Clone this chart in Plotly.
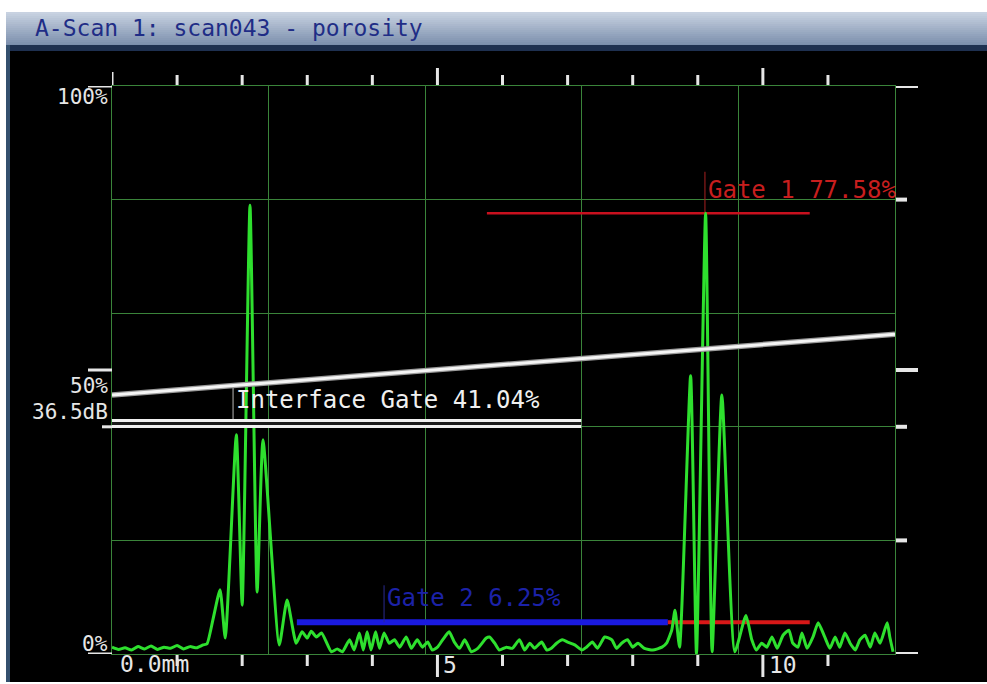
import plotly.graph_objects as go

# ---------------- data ----------------
signal_mm = [
    0.00, 0.10, 0.20, 0.30, 0.40, 0.50, 0.60, 0.70, 0.80, 0.90, 1.00, 1.10, 1.20, 1.30, 1.40, 1.46,
    1.55, 1.66, 1.74, 1.91, 2.00, 2.12, 2.23, 2.32, 2.57, 2.69,
    2.83, 2.92, 3.00, 3.06, 3.14, 3.22, 3.37, 3.46, 3.54, 3.65, 3.72, 3.80, 3.86, 3.92, 3.98,
    4.05, 4.11, 4.18, 4.26, 4.34, 4.42, 4.52, 4.60, 4.69, 4.77, 4.85, 4.92, 5.00, 5.08, 5.18,
    5.26, 5.34, 5.42, 5.52, 5.62, 5.75, 5.80, 5.88, 5.95, 6.06, 6.15, 6.26, 6.34, 6.42, 6.49,
    6.60, 6.68, 6.75, 6.83, 6.92, 7.00, 7.11, 7.22, 7.29, 7.38, 7.46, 7.57, 7.68, 7.75, 7.83,
    7.92, 8.00, 8.08, 8.18, 8.31, 8.45, 8.52,
    8.60, 8.65, 8.72, 8.89, 8.98, 9.12, 9.22, 9.37, 9.57, 9.74, 9.83, 9.90,
    9.98, 10.06, 10.14, 10.22, 10.31, 10.40, 10.46, 10.54, 10.60, 10.68, 10.77, 10.85, 10.95,
    11.03, 11.11, 11.18, 11.26, 11.34, 11.42, 11.49, 11.57, 11.65, 11.72, 11.80, 11.91, 11.95, 12.00,
]
signal_pct = [
    1.2, 0.8, 1.1, 0.7, 1.3, 0.9, 1.4, 0.8, 1.2, 1.0, 1.5, 0.9, 1.3, 1.1, 1.6, 1.8,
    6.0, 11.3, 2.8, 38.6, 8.6, 79.0, 10.9, 37.7, 1.6, 9.5,
    1.9, 3.9, 2.8, 4.0, 3.0, 3.7, 0.4, 0.9, 0.4, 2.5, 0.7, 3.7, 0.7, 3.9, 0.7,
    3.9, 1.0, 3.7, 1.9, 2.5, 1.2, 3.0, 1.0, 2.5, 1.2, 2.1, 0.7, 1.2, 2.5, 3.9,
    2.1, 1.0, 2.5, 0.4, 1.0, 2.8, 3.0, 1.9, 0.7, 1.2, 1.0, 2.5, 0.7, 1.9, 1.0,
    2.1, 0.7, 1.0, 1.9, 2.5, 2.1, 1.6, 0.7, 1.2, 2.1, 1.0, 3.0, 2.5, 1.0, 1.9,
    2.5, 1.2, 1.9, 1.0, 0.7, 1.2, 1.9,
    4.2, 7.7, 1.2, 49.0, 0.0, 77.6, 0.4, 45.6, 0.4, 6.8, 2.5, 0.7,
    1.9, 1.2, 3.0, 1.0, 3.3, 4.2, 1.9, 1.2, 3.7, 1.0, 3.0, 5.5, 3.0,
    1.0, 3.0, 1.2, 3.7, 1.9, 0.7, 2.5, 3.3, 1.2, 3.7, 1.9, 5.5, 3.0, 0.4,
]

# sloped reference (DAC) curve
ref_curve_mm = [0.0, 12.03]
ref_curve_pct = [45.6, 56.3]

# gates
gate_names = ["Interface Gate", "Gate 1", "Gate 2"]
gate_readings = [41.04, 77.58, 6.25]
gate_levels = [40.6, 77.6, 5.6]
gate_start_mm = [0.0, 5.76, 2.84]
gate_end_mm = [7.21, 10.72, 8.54]
gate_marker_mm = [1.86, 9.11, 4.18]
gate_marker_top = [47.4, 84.9, 12.1]
gate1_tail_mm = [8.54, 10.72]

# axes
x_max_mm = 12.03
x_minor_ticks = [1, 2, 3, 4, 6, 7, 8, 9, 11]
x_major_ticks = [5, 10]
x_tick_labels = ["5", "10"]
right_ticks_pct = [100, 80, 50, 40, 20, 0]
right_ticks_long = [True, False, True, False, False, True]
left_ticks_pct = [100, 50, 40, 0]
left_ticks_long = [True, True, False, True]
left_labels = ["100%", "50%", "36.5dB", "0%"]
title_text = "A-Scan 1: scan043 - porosity"

# ---------------- figure ----------------
W, H = 987, 684
L, R, T, B = 112, 92, 86, 30
PW, PH = W - L - R, H - T - B


def px(xpix):
    return (xpix - L) / PW


def py(ypix):
    return (H - B - ypix) / PH


GREEN_GRID = "#3a843a"
WHITE = "#e6e6e6"
MONO = "DejaVu Sans Mono"

fig = go.Figure()

# gate 2 (blue) and gate-1 tail (red) thick bars
fig.add_trace(go.Scatter(x=[gate_start_mm[2], gate_end_mm[2]], y=[gate_levels[2]] * 2,
                         mode="lines", line=dict(color="#1a1ae0", width=6), hoverinfo="skip"))
fig.add_trace(go.Scatter(x=gate1_tail_mm, y=[gate_levels[2]] * 2,
                         mode="lines", line=dict(color="#d81818", width=4), hoverinfo="skip"))
# gate 1 line
fig.add_trace(go.Scatter(x=[gate_start_mm[1], gate_end_mm[1]], y=[gate_levels[1]] * 2,
                         mode="lines", line=dict(color="#c8101e", width=2.5), hoverinfo="skip"))
# gate markers
marker_colors = ["#b8b8b8", "#a82020", "#2a2a90"]
for i in range(3):
    fig.add_trace(go.Scatter(x=[gate_marker_mm[i]] * 2, y=[gate_levels[i], gate_marker_top[i]],
                             mode="lines", line=dict(color=marker_colors[i], width=1), hoverinfo="skip"))

# A-scan signal
fig.add_trace(go.Scatter(x=signal_mm, y=signal_pct, mode="lines",
                         line=dict(color="#2ee02e", width=3, shape="spline", smoothing=0.5),
                         hoverinfo="skip"))

# interface gate double white line (white band with dark centre)
fig.add_trace(go.Scatter(x=[gate_start_mm[0], gate_end_mm[0]], y=[gate_levels[0]] * 2,
                         mode="lines", line=dict(color="#f0f0f0", width=9), hoverinfo="skip"))
fig.add_trace(go.Scatter(x=[gate_start_mm[0], gate_end_mm[0]], y=[gate_levels[0]] * 2,
                         mode="lines", line=dict(color="#1a1a1a", width=3), hoverinfo="skip"))
# sloped reference curve
fig.add_trace(go.Scatter(x=ref_curve_mm, y=ref_curve_pct, mode="lines",
                         line=dict(color="#9a9a9a", width=5.5), hoverinfo="skip"))
fig.add_trace(go.Scatter(x=ref_curve_mm, y=ref_curve_pct, mode="lines",
                         line=dict(color="#f4f4f4", width=3), hoverinfo="skip"))

shapes = []
# outer frame: white margins, title bar gradient, dark band, left strip
shapes.append(dict(type="rect", xref="paper", yref="paper", x0=px(0), x1=px(W), y0=py(0), y1=py(12),
                   fillcolor="white", line_width=0, layer="below"))
shapes.append(dict(type="rect", xref="paper", yref="paper", x0=px(0), x1=px(6), y0=py(0), y1=py(H),
                   fillcolor="white", line_width=0, layer="below"))
shapes.append(dict(type="rect", xref="paper", yref="paper", x0=px(0), x1=px(W), y0=py(682), y1=py(H),
                   fillcolor="white", line_width=0, layer="below"))
n_stripes = 17
top_rgb, bot_rgb = (200, 210, 225), (122, 142, 172)
for k in range(n_stripes):
    f = k / (n_stripes - 1)
    c = tuple(int(round(top_rgb[j] + (bot_rgb[j] - top_rgb[j]) * f)) for j in range(3))
    y0 = 12 + k * 2
    shapes.append(dict(type="rect", xref="paper", yref="paper", x0=px(6), x1=px(W),
                       y0=py(y0), y1=py(y0 + 2.2), fillcolor="rgb(%d,%d,%d)" % c,
                       line_width=0, layer="below"))
shapes.append(dict(type="rect", xref="paper", yref="paper", x0=px(6), x1=px(W), y0=py(45), y1=py(51),
                   fillcolor="#1e3050", line_width=0, layer="below"))
shapes.append(dict(type="rect", xref="paper", yref="paper", x0=px(6), x1=px(10), y0=py(45), y1=py(682),
                   fillcolor="#34506e", line_width=0, layer="below"))

# top and bottom x ticks
for t in [0] + x_minor_ticks:
    top_len = 13 if t == 0 else 10
    shapes.append(dict(type="line", xref="x", yref="paper", x0=t, x1=t, y0=py(85), y1=py(85 - top_len),
                       line=dict(color=WHITE, width=3)))
for t in x_minor_ticks:
    shapes.append(dict(type="line", xref="x", yref="paper", x0=t, x1=t, y0=py(655), y1=py(666),
                       line=dict(color=WHITE, width=3)))
for t in x_major_ticks:
    shapes.append(dict(type="line", xref="x", yref="paper", x0=t, x1=t, y0=py(85), y1=py(68),
                       line=dict(color=WHITE, width=3)))
    shapes.append(dict(type="line", xref="x", yref="paper", x0=t, x1=t, y0=py(655), y1=py(677),
                       line=dict(color=WHITE, width=3)))
# right ticks
for v, lg in zip(right_ticks_pct, right_ticks_long):
    shapes.append(dict(type="line", xref="paper", yref="y", x0=px(896), x1=px(918 if lg else 907),
                       y0=v, y1=v, line=dict(color=WHITE, width=4)))
# left ticks
for v, lg in zip(left_ticks_pct, left_ticks_long):
    shapes.append(dict(type="line", xref="paper", yref="y", x0=px(88 if lg else 102), x1=px(112),
                       y0=v, y1=v, line=dict(color=WHITE, width=3)))

annotations = []
annotations.append(dict(text=title_text, xref="paper", yref="paper", x=px(33), y=py(28),
                        xanchor="left", yanchor="middle", showarrow=False,
                        font=dict(family=MONO, size=23, color="#1f2d86")))
left_label_y = [97, 386, 412, 644]
for lab, yy in zip(left_labels, left_label_y):
    annotations.append(dict(text=lab, xref="paper", yref="paper", x=px(110), y=py(yy),
                            xanchor="right", yanchor="middle", showarrow=False,
                            font=dict(family=MONO, size=21, color=WHITE)))
annotations.append(dict(text="0.0mm", xref="paper", yref="paper", x=px(118), y=py(664),
                        xanchor="left", yanchor="middle", showarrow=False,
                        font=dict(family=MONO, size=23, color=WHITE)))
for t, lab in zip(x_major_ticks, x_tick_labels):
    annotations.append(dict(text=lab, xref="x", yref="paper", x=t, y=py(665), xshift=4,
                            xanchor="left", yanchor="middle", showarrow=False,
                            font=dict(family=MONO, size=23, color=WHITE)))
gate_text_colors = ["#f0f0f0", "#c81e1e", "#1c22a8"]
gate_text_y = [44.7, 81.7, 9.9]
for i in range(3):
    annotations.append(dict(text="%s %.2f%%" % (gate_names[i], gate_readings[i]),
                            xref="x", yref="y", x=gate_marker_mm[i], y=gate_text_y[i], xshift=1,
                            xanchor="left", yanchor="middle", showarrow=False,
                            font=dict(family=MONO, size=24, color=gate_text_colors[i])))

fig.update_layout(
    width=W, height=H, autosize=False,
    margin=dict(l=L, r=R, t=T, b=B, pad=0),
    paper_bgcolor="#000000", plot_bgcolor="#000000",
    showlegend=False,
    shapes=shapes, annotations=annotations,
    xaxis=dict(range=[0, x_max_mm], tick0=0, dtick=x_max_mm / 5, showgrid=True,
               gridcolor=GREEN_GRID, gridwidth=1, zeroline=False, showticklabels=False, ticks="",
               showline=True, mirror=True, linecolor=GREEN_GRID, linewidth=1, fixedrange=True),
    yaxis=dict(range=[0, 100], tick0=0, dtick=20, showgrid=True,
               gridcolor=GREEN_GRID, gridwidth=1, zeroline=False, showticklabels=False, ticks="",
               showline=True, mirror=True, linecolor=GREEN_GRID, linewidth=1, fixedrange=True),
)

fig.write_html("out.html", config={"displayModeBar": False},
               post_script="document.body.style.margin='0';document.body.style.overflow='hidden';")
